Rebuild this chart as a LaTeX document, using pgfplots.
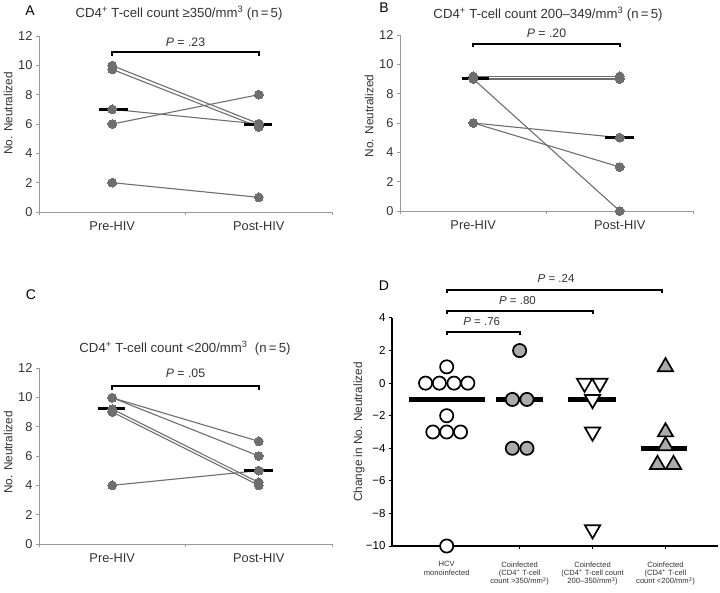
\documentclass[border=0pt]{standalone}
\usepackage{fontspec}
\setmainfont{Liberation Sans}
\usepackage{pgfplots}
\pgfplotsset{compat=1.18}

\definecolor{ln}{HTML}{6E6E6E}
\definecolor{ax}{HTML}{9A9A9A}
\definecolor{fillg}{HTML}{ABABAB}
\definecolor{txt}{HTML}{333333}
\newcommand{\tl}{\fontsize{12.8bp}{15bp}\selectfont}
\newcommand{\yl}{\fontsize{11.8bp}{14bp}\selectfont}
\newcommand{\pv}{\fontsize{12.3bp}{14bp}\selectfont}
\newcommand{\ttl}{\fontsize{13.2bp}{15bp}\selectfont}
\newcommand{\sm}{\fontsize{7.6bp}{8.4bp}\selectfont}

\pgfplotsset{
 pan/.style={
  scale only axis, width=293bp, height=176bp,
  xmin=-0.5, xmax=1.5, ymin=0, ymax=12,
  axis x line*=bottom, axis y line*=left,
  axis line style={ax, line width=0.8bp, -},
  ytick={0,2,...,12},
  xtick={-0.5,0.5,1.5}, xticklabels={,,},
  extra x ticks={0,1}, extra x tick labels={Pre-HIV,Post-HIV},
  extra x tick style={major tick length=0pt},
  xticklabel style={yshift=-6bp},
  tick align=outside, major tick length=3bp,
  tick style={ax, line width=0.8bp},
  ticklabel style={font=\tl, text=txt},
  /pgf/number format/assume math mode=true,
  ylabel={No. Neutralized},
  ylabel style={font=\yl, text=txt, anchor=center},
  clip=false,
 },
 pair/.style={ln, line width=1.1bp, mark=*, mark size=4.4bp, mark options={fill=ln, draw=ln, line width=0pt}},
 med/.style={black, line width=2.6bp, no marks},
 brk/.style={black, line width=2.2bp, no marks},
}

\begin{document}
\begin{tikzpicture}
\path[use as bounding box] (0,0) rectangle (720bp,593bp);

% ---------------- A
\begin{axis}[pan, at={(39bp,381bp)}, anchor=south west,
  ylabel style={at={(axis description cs:-0.105,0.56)}}]
\addplot[pair] coordinates {(0,9.98) (1,6.02)};
\addplot[pair] coordinates {(0,9.72) (1,5.8)};
\addplot[pair] coordinates {(0,7) (1,6)};
\addplot[pair] coordinates {(0,6) (1,8)};
\addplot[pair] coordinates {(0,2) (1,1)};
\addplot[med] coordinates {(-0.09,7) (0.11,7)};
\addplot[med] coordinates {(0.9,5.95) (1.09,5.95)};
\addplot[brk] coordinates {(0,10.65) (0,10.9) (1,10.9) (1,10.65)};
\node[font=\pv, text=txt] at (axis cs:0.5,11.6) {\textit{P} = .23};
\end{axis}

% ---------------- B
\begin{axis}[pan, at={(400bp,382bp)}, anchor=south west,
  ylabel style={at={(axis description cs:-0.105,0.54)}}]
\addplot[pair] coordinates {(0,9.18) (1,9.18)};
\addplot[pair] coordinates {(0,9.0) (1,9.0)};
\addplot[pair] coordinates {(0,9) (1,0)};
\addplot[pair] coordinates {(0,6) (1,5)};
\addplot[pair] coordinates {(0,6) (1,3)};
\addplot[med] coordinates {(-0.08,9.03) (0.11,9.03)};
\addplot[med] coordinates {(0.9,5) (1.1,5)};
\addplot[brk] coordinates {(0,11.15) (0,11.4) (1,11.4) (1,11.15)};
\node[font=\pv, text=txt] at (axis cs:0.5,12.1) {\textit{P} = .20};
\end{axis}

% ---------------- C
\begin{axis}[pan, at={(39bp,49bp)}, anchor=south west,
  ylabel style={at={(axis description cs:-0.105,0.52)}}]
\addplot[pair] coordinates {(0,9.97) (1,7)};
\addplot[pair] coordinates {(0,9.97) (1,6)};
\addplot[pair] coordinates {(0,9.2) (1,4.2)};
\addplot[pair] coordinates {(0,9.0) (1,4.0)};
\addplot[pair] coordinates {(0,4) (1,5)};
\addplot[med] coordinates {(-0.1,9.24) (0.09,9.24)};
\addplot[med] coordinates {(0.9,5) (1.1,5)};
\addplot[brk] coordinates {(0,10.5) (0,10.75) (1,10.75) (1,10.5)};
\node[font=\pv, text=txt] at (axis cs:0.5,11.66) {\textit{P} = .05};
\end{axis}

% ---------------- D
\begin{axis}[scale only axis, width=326bp, height=228bp,
  at={(392bp,47bp)}, anchor=south west,
  xmin=0.25, xmax=4.72, ymin=-10, ymax=4,
  axis x line*=bottom, axis y line*=left,
  axis line style={black, line width=1.2bp, -},
  tick style={black, line width=1bp},
  tick align=outside, major tick length=3bp,
  ytick={-10,-8,...,4},
  yticklabels={−10,−8,−6,−4,−2,0,2,4},
  yticklabel style={font=\fontsize{11.5bp}{13bp}\selectfont},
  xtick={1,2,3,4},
  xticklabels={HCV\\monoinfected,
   Coinfected\\(CD4\textsuperscript{+} T-cell\\count >350/mm\textsuperscript{3}),
   Coinfected\\(CD4\textsuperscript{+} T-cell count\\200–350/mm\textsuperscript{3}),
   Coinfected\\(CD4\textsuperscript{+} T-cell\\count <200/mm\textsuperscript{3})},
  xticklabel style={font=\sm, align=center, text=txt, anchor=north, yshift=-9bp},
  ylabel={Change in No. Neutralized},
  ylabel style={font=\yl, text=txt, anchor=center, at={(axis description cs:-0.101,0.5)}},
  clip=false]
\addplot[black, line width=5.5bp, no marks] coordinates {(0.48,-1) (1.52,-1)};
\addplot[black, line width=5.5bp, no marks] coordinates {(1.67,-1) (2.32,-1)};
\addplot[black, line width=5.5bp, no marks] coordinates {(2.66,-1) (3.32,-1)};
\addplot[black, line width=5.5bp, no marks] coordinates {(3.67,-4) (4.30,-4)};
% HCV monoinfected
\addplot[only marks, mark=*, mark size=6.6bp, mark options={fill=white, draw=black, line width=1.7bp}]
 coordinates {(1,1) (0.71,0) (0.90,0) (1.10,0) (1.29,0) (1,-2) (0.81,-3) (1,-3) (1.19,-3) (1,-10)};
% Coinfected >350
\addplot[only marks, mark=*, mark size=6.6bp, mark options={fill=fillg, draw=black, line width=1.7bp}]
 coordinates {(2,2) (1.9,-1) (2.1,-1) (1.9,-4) (2.1,-4)};
% Coinfected 200-350
\addplot[only marks, mark=triangle*, mark size=8.8bp, mark options={fill=white, draw=black, line width=1.7bp, rotate=180}]
 coordinates {(2.89,0) (3.1,0) (3,-1) (3,-3) (3,-9)};
% Coinfected <200
\addplot[only marks, mark=triangle*, mark size=8.8bp, mark options={fill=fillg, draw=black, line width=1.7bp}]
 coordinates {(4,1) (4,-3) (4,-3.85) (3.89,-5) (4.11,-5)};
% brackets
\addplot[brk, line width=2bp] coordinates {(1,2.98) (1,3.14) (2,3.14) (2,2.98)};
\addplot[brk, line width=2bp] coordinates {(1,4.27) (1,4.43) (3,4.43) (3,4.27)};
\addplot[brk, line width=2bp] coordinates {(1,5.56) (1,5.72) (3.95,5.72) (3.95,5.56)};
\node[font=\fontsize{11.5bp}{13bp}\selectfont, text=txt] at (axis cs:1.48,3.8) {\textit{P} = .76};
\node[font=\fontsize{11.5bp}{13bp}\selectfont, text=txt] at (axis cs:1.97,5.05) {\textit{P} = .80};
\node[font=\fontsize{11.5bp}{13bp}\selectfont, text=txt] at (axis cs:2.5,6.4) {\textit{P} = .24};
\end{axis}

% titles and panel letters
\node[font=\ttl, text=txt] at (179bp,580bp) {CD4\textsuperscript{+} T-cell count ≥350/mm\textsuperscript{3} (n\,=\,5)};
\node[font=\ttl, text=txt] at (548bp,579bp) {CD4\textsuperscript{+} T-cell count 200–349/mm\textsuperscript{3} (n\,=\,5)};
\node[font=\ttl, text=txt] at (185bp,245bp) {CD4\textsuperscript{+} T-cell count <200/mm\textsuperscript{3}\ \ (n\,=\,5)};
\node[font=\fontsize{14bp}{16bp}\selectfont] at (30bp,582bp) {A};
\node[font=\fontsize{14bp}{16bp}\selectfont] at (384bp,585bp) {B};
\node[font=\fontsize{14bp}{16bp}\selectfont] at (31bp,298bp) {C};
\node[font=\fontsize{14bp}{16bp}\selectfont] at (384bp,307bp) {D};
\end{tikzpicture}
\end{document}
